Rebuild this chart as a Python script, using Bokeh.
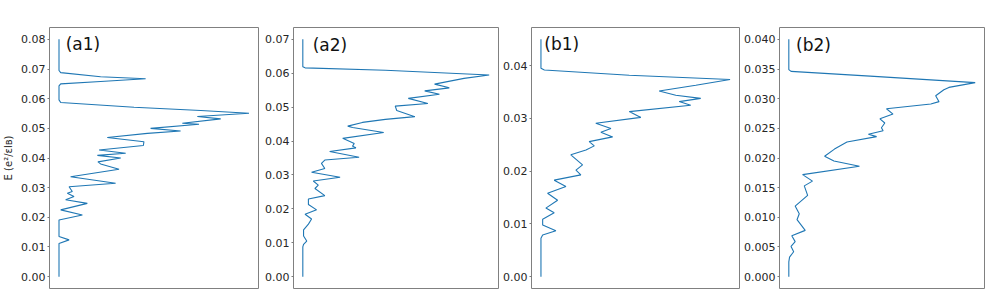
from bokeh.plotting import figure
from bokeh.models import ColumnDataSource, Range1d, FixedTicker, NumeralTickFormatter, Label
from bokeh.layouts import row
from bokeh.embed import file_html
from bokeh.resources import INLINE

# ---- data (density of states, normalised; energy in e^2/(eps l_B)) ----
a1_E = [0.0800, 0.0695, 0.0688, 0.0674, 0.0667, 0.0658, 0.0650, 0.0643, 0.0596, 0.0587,
        0.0571, 0.0560, 0.0551, 0.0540, 0.0532, 0.0517, 0.0514, 0.0500, 0.0491, 0.0483,
        0.0469, 0.0455, 0.0442, 0.0427, 0.0416, 0.0409, 0.0400, 0.0387, 0.0380, 0.0362,
        0.0337, 0.0315, 0.0303, 0.0287, 0.0281, 0.0270, 0.0259, 0.0247, 0.0225, 0.0208,
        0.0191, 0.0135, 0.0124, 0.0112, 0.0000]
a1_D = [0.000, 0.000, 0.009, 0.219, 0.456, 0.219, 0.009, 0.000, 0.000, 0.009,
        0.395, 0.746, 1.000, 0.728, 0.851, 0.649, 0.737, 0.482, 0.640, 0.465,
        0.254, 0.447, 0.444, 0.211, 0.351, 0.202, 0.325, 0.205, 0.219, 0.316,
        0.061, 0.298, 0.053, 0.070, 0.044, 0.079, 0.035, 0.149, 0.009, 0.123,
        0.000, 0.000, 0.053, 0.000, 0.000]

a2_E = [0.0700, 0.0619, 0.0616, 0.0609, 0.0595, 0.0585, 0.0568, 0.0557, 0.0548, 0.0538,
        0.0526, 0.0511, 0.0503, 0.0490, 0.0472, 0.0464, 0.0455, 0.0444, 0.0440, 0.0425,
        0.0408, 0.0393, 0.0385, 0.0380, 0.0369, 0.0352, 0.0344, 0.0334, 0.0319, 0.0308,
        0.0293, 0.0282, 0.0270, 0.0260, 0.0239, 0.0229, 0.0213, 0.0197, 0.0184, 0.0170,
        0.0155, 0.0138, 0.0120, 0.0105, 0.0095, 0.0088, 0.0000]
a2_D = [0.000, 0.000, 0.012, 0.443, 1.000, 0.865, 0.707, 0.786, 0.654, 0.733,
        0.566, 0.671, 0.496, 0.504, 0.601, 0.443, 0.320, 0.241, 0.267, 0.434,
        0.214, 0.276, 0.267, 0.285, 0.144, 0.302, 0.118, 0.100, 0.118, 0.047,
        0.200, 0.056, 0.083, 0.065, 0.118, 0.030, 0.030, 0.074, 0.012, 0.047,
        0.030, 0.004, 0.004, 0.021, 0.004, 0.000, 0.000]

b1_E = [0.0450, 0.0395, 0.0392, 0.0382, 0.0374, 0.0363, 0.0352, 0.0344, 0.0338, 0.0332,
        0.0325, 0.0313, 0.0302, 0.0291, 0.0281, 0.0274, 0.0265, 0.0256, 0.0248, 0.0240,
        0.0231, 0.0212, 0.0202, 0.0193, 0.0183, 0.0171, 0.0158, 0.0145, 0.0130, 0.0121,
        0.0109, 0.0098, 0.0087, 0.0079, 0.0073, 0.0000]
b1_D = [0.000, 0.000, 0.018, 0.467, 1.000, 0.819, 0.625, 0.713, 0.845, 0.731,
        0.792, 0.467, 0.528, 0.290, 0.370, 0.317, 0.379, 0.255, 0.282, 0.238,
        0.158, 0.220, 0.185, 0.211, 0.070, 0.132, 0.035, 0.088, 0.026, 0.070,
        0.009, 0.009, 0.079, 0.009, 0.000, 0.000]

b2_E = [0.0400, 0.0349, 0.0346, 0.0338, 0.0327, 0.0319, 0.0315, 0.0305, 0.0295, 0.0291,
        0.0283, 0.0274, 0.0266, 0.0259, 0.0251, 0.0246, 0.0240, 0.0236, 0.0227, 0.0215,
        0.0203, 0.0195, 0.0186, 0.0172, 0.0161, 0.0153, 0.0137, 0.0119, 0.0106, 0.0096,
        0.0078, 0.0069, 0.0059, 0.0051, 0.0042, 0.0033, 0.0025, 0.0000]
b2_D = [0.000, 0.000, 0.012, 0.436, 1.000, 0.859, 0.832, 0.788, 0.806, 0.762,
        0.524, 0.559, 0.489, 0.515, 0.497, 0.506, 0.427, 0.471, 0.312, 0.245,
        0.192, 0.242, 0.379, 0.074, 0.127, 0.083, 0.101, 0.034, 0.056, 0.044,
        0.088, 0.016, 0.034, 0.012, 0.026, 0.004, 0.000, 0.000]

a1_ticks = [0.00, 0.01, 0.02, 0.03, 0.04, 0.05, 0.06, 0.07, 0.08]
a2_ticks = [0.00, 0.01, 0.02, 0.03, 0.04, 0.05, 0.06, 0.07]
b1_ticks = [0.00, 0.01, 0.02, 0.03, 0.04]
b2_ticks = [0.000, 0.005, 0.010, 0.015, 0.020, 0.025, 0.030, 0.035, 0.040]

panel_names = ["(a1)", "(a2)", "(b1)", "(b2)"]
y_title = "E (e²/εlʙ)"

LINE = "#1f77b4"
FRAME = "#808080"
TXT = "#262626"


def make_panel(E, D, ticks, fmt, name, name_xy, width, bl, br, ylabel=None):
    ymax = max(E)
    pad = 0.05 * ymax
    p = figure(width=width, height=296, output_backend="svg", toolbar_location=None,
               x_axis_location=None, min_border_left=bl, min_border_right=br,
               min_border_top=27, min_border_bottom=8,
               x_range=Range1d(-0.05, 1.05), y_range=Range1d(-pad, ymax + pad))
    p.grid.visible = False
    p.outline_line_color = FRAME
    p.outline_line_width = 1
    p.background_fill_color = "white"
    p.border_fill_color = "white"
    src = ColumnDataSource(dict(E=E, D=D))
    p.line("D", "E", source=src, line_color=LINE, line_width=1.1)
    ax = p.yaxis[0]
    ax.ticker = FixedTicker(ticks=ticks)
    ax.formatter = NumeralTickFormatter(format=fmt)
    ax.axis_line_color = None
    ax.major_tick_line_color = "#7a7a7a"
    ax.major_tick_out = 2
    ax.major_tick_in = 0
    ax.minor_tick_line_color = None
    ax.major_label_standoff = 2
    ax.major_label_text_font = "DejaVu Sans"
    ax.major_label_text_font_size = "11px"
    ax.major_label_text_color = TXT
    if ylabel:
        ax.axis_label = ylabel
        ax.axis_label_text_font = "DejaVu Sans"
        ax.axis_label_text_font_size = "10px"
        ax.axis_label_text_font_style = "normal"
        ax.axis_label_text_color = TXT
        ax.axis_label_standoff = 4
    p.add_layout(Label(x=name_xy[0], y=name_xy[1], text=name, text_font="DejaVu Sans",
                       text_font_size="17px", text_color="#111111",
                       text_baseline="top", text_align="left"))
    return p


p1 = make_panel(a1_E, a1_D, a1_ticks, "0.00", panel_names[0], (0.035, 0.0818), 262, 49, 4, y_title)
p2 = make_panel(a2_E, a2_D, a2_ticks, "0.00", panel_names[1], (0.053, 0.0712), 238, 28, 2)
p3 = make_panel(b1_E, b1_D, b1_ticks, "0.00", panel_names[2], (0.018, 0.0460), 241, 31, 2)
p4 = make_panel(b2_E, b2_D, b2_ticks, "0.000", panel_names[3], (0.039, 0.0408), 247, 36, 4)

layout = row(p1, p2, p3, p4)
open("out.html", "w").write(file_html(layout, INLINE))
